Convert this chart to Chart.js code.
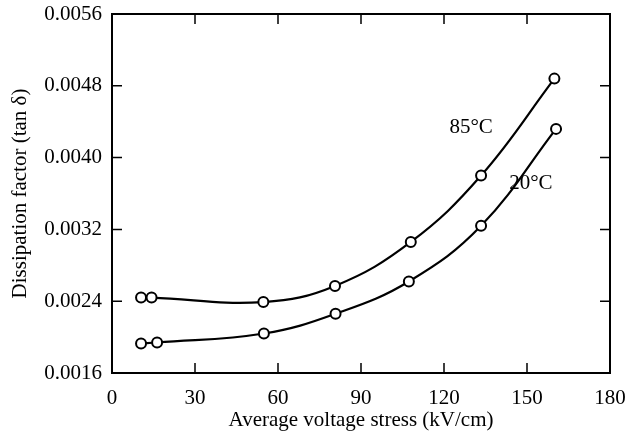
<!DOCTYPE html>
<html>
<head>
<meta charset="utf-8">
<script src="https://cdn.jsdelivr.net/npm/chart.js@4"></script>
<style>
  html, body { margin: 0; padding: 0; background: #fff; }
  #wrap { width: 627px; height: 435px; }
</style>
</head>
<body>
<div id="wrap"><canvas id="myChart"></canvas></div>
<script>
const stress85 = [10.5, 14.3, 54.7, 80.6, 108, 133.4, 159.9];
const tan85 = [0.00244, 0.00244, 0.00239, 0.00257, 0.00306, 0.00380, 0.00488];
const stress20 = [10.5, 16.3, 54.9, 80.8, 107.3, 133.4, 160.5];
const tan20 = [0.00193, 0.00194, 0.00204, 0.00226, 0.00262, 0.00324, 0.00432];
const xTicks = [0, 30, 60, 90, 120, 150, 180];
const yTicks = [0.0016, 0.0024, 0.0032, 0.0040, 0.0048, 0.0056];
const curveLabels = [
    { text: '85°C', x: 129.8, y: 0.00433 },
    { text: '20°C', x: 151.4, y: 0.00371 }
];

const serif = '"Liberation Serif", "Times New Roman", serif';

function pairs(xs, ys) {
    return xs.map((x, i) => ({ x: x, y: ys[i] }));
}

// box around the plot, inward tick marks, curve labels
const frame = {
    id: 'frame',
    afterDatasetsDraw(chart) {
        const ctx = chart.ctx;
        const a = chart.chartArea;
        const sx = chart.scales.x, sy = chart.scales.y;
        ctx.save();
        ctx.strokeStyle = '#000';
        ctx.lineWidth = 2;
        ctx.strokeRect(a.left, a.top, a.right - a.left, a.bottom - a.top);
        ctx.lineWidth = 1.5;
        const len = 10;
        ctx.beginPath();
        xTicks.forEach(v => {
            const px = sx.getPixelForValue(v);
            ctx.moveTo(px, a.bottom); ctx.lineTo(px, a.bottom - len);
            ctx.moveTo(px, a.top); ctx.lineTo(px, a.top + len);
        });
        yTicks.forEach(v => {
            const py = sy.getPixelForValue(v);
            ctx.moveTo(a.left, py); ctx.lineTo(a.left + len, py);
            ctx.moveTo(a.right, py); ctx.lineTo(a.right - len, py);
        });
        ctx.stroke();
        ctx.fillStyle = '#000';
        ctx.font = '21px ' + serif;
        ctx.textAlign = 'center';
        ctx.textBaseline = 'middle';
        curveLabels.forEach(l => {
            ctx.fillText(l.text, sx.getPixelForValue(l.x), sy.getPixelForValue(l.y));
        });
        ctx.restore();
    }
};

const pointStyle = {
    borderColor: '#000',
    backgroundColor: '#fff',
    pointBackgroundColor: '#fff',
    pointBorderColor: '#000',
    pointBorderWidth: 2,
    pointRadius: 5,
    borderWidth: 2.2,
    showLine: true,
    tension: 0.4,
    fill: false
};

new Chart(document.getElementById("myChart"), {
    type: 'scatter',
    data: {
        datasets: [
            Object.assign({ label: '85°C', data: pairs(stress85, tan85) }, pointStyle),
            Object.assign({ label: '20°C', data: pairs(stress20, tan20) }, pointStyle)
        ]
    },
    options: {
        responsive: true,
        maintainAspectRatio: false,
        animation: false,
        layout: { padding: { left: 0, right: 17, top: 14, bottom: 2 } },
        plugins: {
            legend: { display: false },
            tooltip: { enabled: false }
        },
        scales: {
            x: {
                type: 'linear',
                min: 0,
                max: 180,
                afterBuildTicks: s => { s.ticks = xTicks.map(v => ({ value: v })); },
                ticks: { color: '#000', font: { family: serif, size: 21 }, padding: 13 },
                grid: { display: false, drawTicks: false },
                border: { display: false },
                title: {
                    display: true,
                    text: 'Average voltage stress (kV/cm)',
                    color: '#000',
                    font: { family: serif, size: 21 },
                    padding: { top: 0, bottom: 0 }
                },
                afterFit: s => {
                    s.height = 60;
                    s.paddingLeft = 0;
                    s.paddingRight = 0;
                }
            },
            y: {
                min: 0.0016,
                max: 0.0056,
                afterBuildTicks: s => { s.ticks = yTicks.map(v => ({ value: v })); },
                ticks: {
                    color: '#000',
                    font: { family: serif, size: 21 },
                    padding: 10,
                    callback: v => v.toFixed(4)
                },
                grid: { display: false, drawTicks: false },
                border: { display: false },
                title: {
                    display: true,
                    text: 'Dissipation factor (tan δ)',
                    color: '#000',
                    font: { family: serif, size: 21 },
                    padding: { top: 8, bottom: 4 }
                },
                afterFit: s => {
                    s.width = 112;
                    s.paddingTop = 0;
                    s.paddingBottom = 0;
                }
            }
        }
    },
    plugins: [frame]
});
</script>
</body>
</html>
